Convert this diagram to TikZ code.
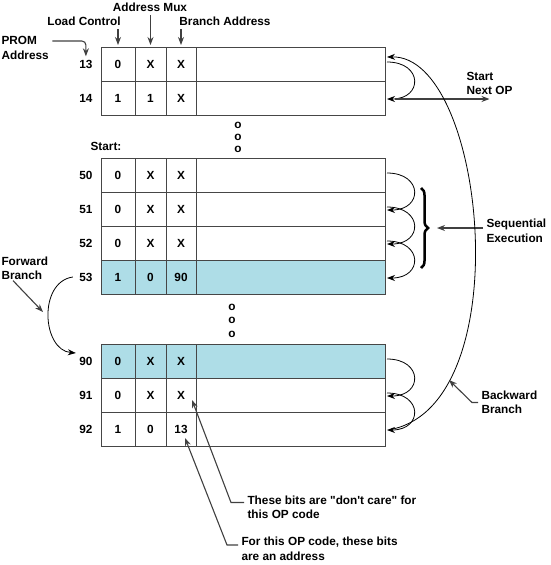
\documentclass[tikz,border=0pt]{standalone}
\usepackage{fontspec}
\setmainfont{Liberation Sans}[Ligatures=TeXOff]
\usetikzlibrary{arrows.meta,decorations.pathreplacing}
\definecolor{rowblue}{RGB}{174,221,231}
\definecolor{rule}{RGB}{70,70,70}
\tikzset{%
	>={Stealth[length=8pt,width=6pt]},
	% Specifications for style of nodes:
	base/.style = {rectangle, draw=rule, line width=0.7pt, outer sep=0pt,
	inner sep=0pt, minimum height=34pt, text centered},
	bit/.style = {base, minimum width=#1},
	addr/.style = {anchor=east},
	note/.style = {align=left, anchor=west},
	loop/.style = {->, line width=0.8pt},
	pointer/.style = {->, draw=black!75, line width=1.1pt}
}

\begin{document}
\begin{tikzpicture}[x=1pt,y=1pt,
		every node/.style={font=\fontsize{11.8}{14.5}\selectfont\bfseries}]
		\useasboundingbox (0,0) rectangle (551,-565);
		% PROM words: address/row/load/mux/branch/fill
		\foreach \n/\y/\a/\b/\c/\f in {13/64/0/X/X/white, 14/98/1/1/X/white,
			50/175/0/X/X/white, 51/209/0/X/X/white, 52/243/0/X/X/white,
			53/277/1/0/90/rowblue, 90/361/0/X/X/rowblue, 91/395/0/X/X/white,
			92/429/1/0/13/white}{
			\node (a\n) [bit=34pt, fill=\f] at (118,-\y) {\a};
			\node (b\n) [bit=31pt, fill=\f] at (150.5,-\y) {\b};
			\node (c\n) [bit=30pt, fill=\f] at (181,-\y) {\c};
			\node (d\n) [bit=189pt, fill=\f] at (290.5,-\y) {};
			\node (n\n) [addr] at (96,-\y) {\n};
		}
		\foreach \y in {125,137,149} \node [inner sep=0pt] at (238,-\y) {o};
		\foreach \y in {307,320,334} \node [inner sep=0pt] at (232,-\y) {o};
		
		% field labels
		\node (mux) at (150,-7) {Address Mux};
		\node (load) at (84,-21) {Load Control};
		\node (branch) at (225,-21) {Branch Address};
		\node (prom) [note] at (-2,-48) {PROM\\Address};
		\node (start) at (106,-146) {Start:};
		\draw[pointer] (a13.north |- load.south) -- ([yshift=2pt]a13.north);
		\draw[pointer] (b13.north |- mux.south) -- ([yshift=2pt]b13.north);
		\draw[pointer] (c13.north |- branch.south) -- ([yshift=2pt]c13.north);
		\draw[pointer, rounded corners=4pt] (prom.east |- 0,-41) -| (n13.north);
		
		% sequential steps
		\foreach \p/\q in {13/14, 50/51, 51/52, 52/53, 90/91, 91/92}
		\draw[loop] ([xshift=2pt,yshift=2pt]d\p.east) to[out=0,in=0,looseness=2.5]
		([xshift=2pt,yshift=-1pt]d\q.east);
		
		\node (nextop) [note] at (463,-83.5) {Start\\Next OP};
		\draw[pointer] ([xshift=10pt,yshift=-1pt]d14.east)
		-- ([yshift=-1pt]d14.east -| nextop.south);
		
		\draw[decorate, decoration={brace, amplitude=7pt}, line width=2.5pt]
		(421,-188) -- (421,-268);
		\coordinate (brace) at (437,-228);
		\node (seq) [note] at (483,-231) {Sequential\\Execution};
		\draw[pointer] (seq.west |- brace) -- (brace);
		
		% branches
		\draw[loop] ([xshift=8pt]d92.east) .. controls (520,-400) and (485,-55) ..
		([xshift=2pt,yshift=7pt]d13.east);
		\coordinate (bb) at (449,-380);
		\node (back) [note] at (478,-402.5) {Backward\\Branch};
		\draw[pointer] (back.west) -- ++(-6,0) -- (bb);
		
		\node (fwd) [note] at (-2,-268.5) {Forward\\Branch};
		\coordinate (fb) at (43,-312);
		\draw[pointer] ([xshift=15pt,yshift=3pt]fwd.south west) -- (fb);
		\draw[loop] ([xshift=-3pt]n53.west) .. controls (38,-282) and (42,-350) ..
		([yshift=8pt]n90.west);
		
		% notes on the bits
		\node (care) [note] at (244,-507.5) {These bits are "don't care" for\\this OP code};
		\node (addrnote) [note] at (238,-549) {For this OP code, these bits\\are an address};
		\draw[pointer] ([yshift=5pt]care.west) -- ++(-13,0)
		-- ([xshift=11pt,yshift=-5pt]c91.center);
		\draw[pointer] ([yshift=4pt]addrnote.west) -- ++(-11,0)
		-- ([xshift=4pt,yshift=-9pt]c92.center);
		
\end{tikzpicture}
\end{document}
